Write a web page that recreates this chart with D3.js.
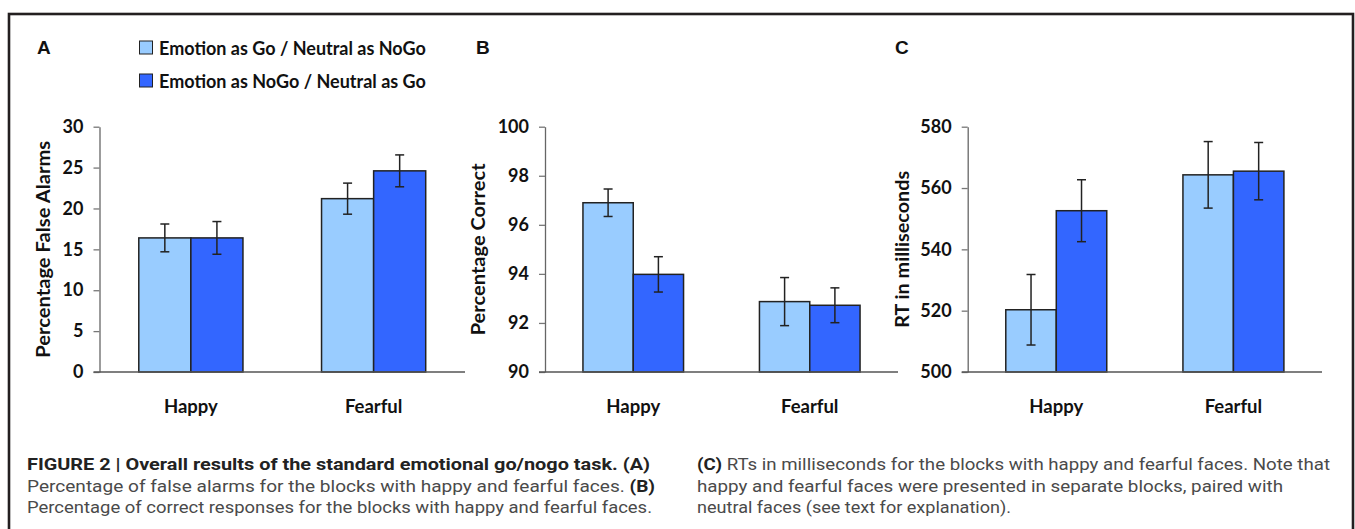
<!DOCTYPE html>
<html>
<head>
<meta charset="utf-8">
<script src="https://cdn.jsdelivr.net/npm/d3@7"></script>
<style>
  html, body { margin: 0; padding: 0; background: #fff; }
  svg { display: block; }
  .lbl { font-family: Lato, "Open Sans", sans-serif; font-weight: 700; fill: #111; }
  .cap { font-family: Roboto, "Liberation Sans", sans-serif; fill: #4a4a4a; }
  .cap .b { font-weight: 700; fill: #222; }
</style>
</head>
<body>
<script>
// ---------- data ----------
const categories = ["Happy", "Fearful"];
const seriesNames = ["Emotion as Go / Neutral as NoGo", "Emotion as NoGo / Neutral as Go"];

// Panel A: percentage false alarms
const falseAlarmsGo = [16.4, 21.2];
const falseAlarmsGoErr = [1.7, 1.9];
const falseAlarmsNoGo = [16.4, 24.6];
const falseAlarmsNoGoErr = [2.0, 1.95];
const ticksA = [0, 5, 10, 15, 20, 25, 30];

// Panel B: percentage correct
const correctGo = [96.9, 92.87];
const correctGoErr = [0.56, 0.98];
const correctNoGo = [93.98, 92.72];
const correctNoGoErr = [0.72, 0.71];
const ticksB = [90, 92, 94, 96, 98, 100];

// Panel C: RT in milliseconds
const rtGo = [520.3, 564.3];
const rtGoErr = [11.5, 10.85];
const rtNoGo = [552.6, 565.5];
const rtNoGoErr = [10.1, 9.35];
const ticksC = [500, 520, 540, 560, 580];

const captionLeft = [
  [["FIGURE 2 | Overall results of the standard emotional go/nogo task. ", true], ["(A)", true]],
  [["Percentage of false alarms for the blocks with happy and fearful faces. ", false], ["(B)", true]],
  [["Percentage of correct responses for the blocks with happy and fearful faces.", false]]
];
const captionRight = [
  [["(C)", true], [" RTs in milliseconds for the blocks with happy and fearful faces. Note that", false]],
  [["happy and fearful faces were presented in separate blocks, paired with", false]],
  [["neutral faces (see text for explanation).", false]]
];

// ---------- layout ----------
const W = 1355, H = 529;
const colors = ["#99CCFF", "#3366FF"];

const svg = d3.select("body").append("svg").attr("width", W).attr("height", H);

svg.append("rect").attr("x", 9).attr("y", 14).attr("width", 1344).attr("height", 700)
  .attr("fill", "none").attr("stroke", "#231f20").attr("stroke-width", 2.6);

const panels = [
  { letter: "A", letterX: 37, axisX: 99.5, right: 465, domain: [0, 30], ticks: ticksA,
    ylabel: "Percentage False Alarms", ylabelX: 43, ylabelLen: 217,
    vals: [falseAlarmsGo, falseAlarmsNoGo], errs: [falseAlarmsGoErr, falseAlarmsNoGoErr] },
  { letter: "B", letterX: 476, axisX: 545, right: 898, domain: [90, 100], ticks: ticksB,
    ylabel: "Percentage Correct", ylabelX: 478, ylabelLen: 172,
    vals: [correctGo, correctNoGo], errs: [correctGoErr, correctNoGoErr] },
  { letter: "C", letterX: 895, axisX: 967.7, right: 1322, domain: [500, 580], ticks: ticksC,
    ylabel: "RT in milliseconds", ylabelX: 902, ylabelLen: 157,
    vals: [rtGo, rtNoGo], errs: [rtGoErr, rtNoGoErr] }
];

const yTop = 126.7, yBot = 372;

panels.forEach(p => {
  const g = svg.append("g");
  const y = d3.scaleLinear().domain(p.domain).range([yBot, yTop]);
  const x = d3.scaleBand().domain(categories).range([p.axisX, p.right]).padding(0);
  const bw = x.bandwidth() * 0.57;

  // panel letter
  g.append("text").attr("x", p.letterX).attr("y", 53.5)
    .style("font-family", "'Liberation Sans', Arial, sans-serif").style("font-weight", 700)
    .style("font-size", "19px").attr("fill", "#111").text(p.letter);

  // bars
  categories.forEach((c, ci) => {
    const xs = d3.scaleBand().domain([0, 1]).range([x(c) + x.bandwidth() / 2 - bw / 2, x(c) + x.bandwidth() / 2 + bw / 2]).padding(0);
    [0, 1].forEach(si => {
      const v = p.vals[si][ci];
      g.append("rect").attr("x", xs(si)).attr("y", y(v))
        .attr("width", xs.bandwidth()).attr("height", y(p.domain[0]) - y(v))
        .attr("fill", colors[si]).attr("stroke", "#222").attr("stroke-width", 1.5);
    });
    [0, 1].forEach(si => {
      const v = p.vals[si][ci], e = p.errs[si][ci];
      const cx = xs(si) + xs.bandwidth() / 2;
      const eg = g.append("g").attr("stroke", "#222").attr("stroke-width", 1.5);
      eg.append("line").attr("x1", cx).attr("x2", cx).attr("y1", y(v + e)).attr("y2", y(v - e));
      eg.append("line").attr("x1", cx - 4.5).attr("x2", cx + 4.5).attr("y1", y(v + e)).attr("y2", y(v + e));
      eg.append("line").attr("x1", cx - 4.5).attr("x2", cx + 4.5).attr("y1", y(v - e)).attr("y2", y(v - e));
    });
  });

  // y axis
  const ax = g.append("g").attr("transform", `translate(${p.axisX},0)`)
    .call(d3.axisLeft(y).tickValues(p.ticks).tickSize(6).tickSizeOuter(0).tickPadding(10).tickFormat(d3.format("d")));
  ax.select(".domain").attr("stroke", "#666").attr("stroke-width", 1.3);
  ax.selectAll(".tick line").attr("stroke", "#777").attr("stroke-width", 1.3);
  ax.selectAll(".tick text").attr("class", "lbl").style("font-size", "18px").attr("fill", "#111");

  // x axis baseline
  g.append("line").attr("x1", p.axisX - 6).attr("x2", p.right).attr("y1", yBot).attr("y2", yBot)
    .attr("stroke", "#555").attr("stroke-width", 1.3);

  // category labels
  categories.forEach(c => {
    g.append("text").attr("class", "lbl").attr("x", x(c) + x.bandwidth() / 2).attr("y", 413)
      .attr("text-anchor", "middle").style("font-size", "18.5px").text(c);
  });

  // y label
  g.append("text").attr("class", "lbl")
    .attr("transform", `translate(${p.ylabelX},${(yTop + yBot) / 2}) rotate(-90)`)
    .attr("text-anchor", "middle").attr("dy", "0.35em").style("font-size", "19px")
    .attr("textLength", p.ylabelLen).attr("lengthAdjust", "spacingAndGlyphs").text(p.ylabel);
});

// legend
seriesNames.forEach((s, i) => {
  const ly = 41 + i * 33;
  svg.append("rect").attr("x", 139.5).attr("y", ly).attr("width", 13).attr("height", 13)
    .attr("fill", colors[i]).attr("stroke", "#222").attr("stroke-width", 1);
  svg.append("text").attr("class", "lbl").attr("x", 159).attr("y", ly + 14)
    .style("font-size", "18px").text(s);
});

// caption
function caption(lines, x0, widths) {
  lines.forEach((parts, li) => {
    const t = svg.append("text").attr("class", "cap").attr("x", x0).attr("y", 470 + li * 21.5)
      .style("font-size", "16px");
    parts.forEach(([txt, bold]) => {
      t.append("tspan").attr("class", bold ? "b" : null).text(txt);
    });
    if (widths[li]) t.attr("textLength", widths[li]).attr("lengthAdjust", "spacingAndGlyphs");
  });
}
caption(captionLeft, 27, [623, 628, 625]);
caption(captionRight, 697, [633, 586, 314]);
</script>
</body>
</html>
